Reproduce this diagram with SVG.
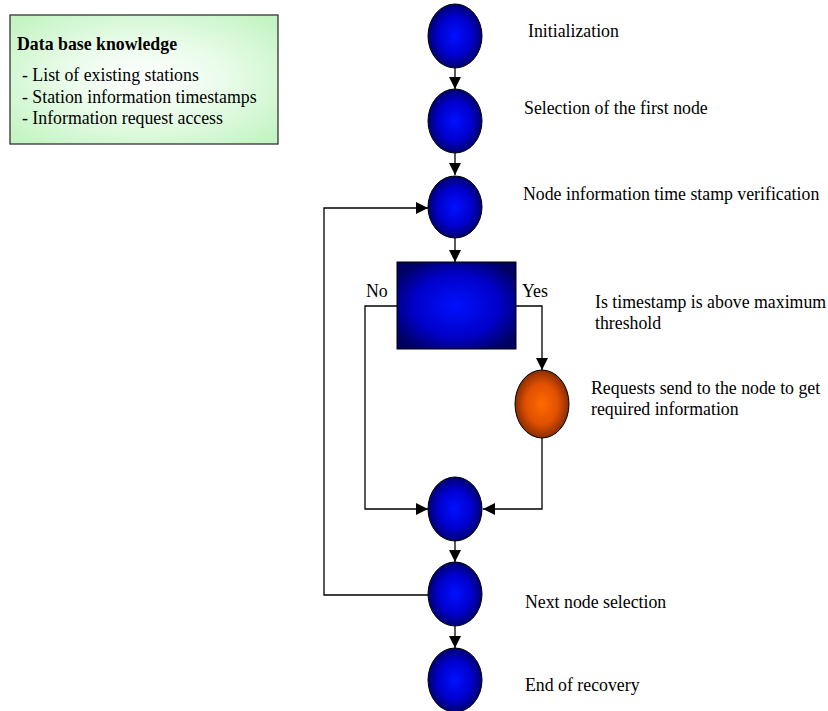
<svg xmlns="http://www.w3.org/2000/svg" width="828" height="711" viewBox="0 0 828 711">
<defs>
<radialGradient id="gBlue" cx="50%" cy="50%" r="50%">
<stop offset="0" stop-color="#0010ff"/>
<stop offset="0.6" stop-color="#0000d0"/>
<stop offset="1" stop-color="#000070"/>
</radialGradient>
<radialGradient id="gRect" cx="50%" cy="50%" r="60%">
<stop offset="0" stop-color="#0010ff"/>
<stop offset="0.6" stop-color="#0000c8"/>
<stop offset="1" stop-color="#000060"/>
</radialGradient>
<radialGradient id="gOrange" cx="50%" cy="50%" r="50%">
<stop offset="0" stop-color="#ff6a00"/>
<stop offset="0.6" stop-color="#e05000"/>
<stop offset="1" stop-color="#8a2c00"/>
</radialGradient>
<radialGradient id="gGreen" cx="50%" cy="50%" r="65%">
<stop offset="0" stop-color="#ffffff"/>
<stop offset="0.45" stop-color="#eafcea"/>
<stop offset="1" stop-color="#c4f4c4"/>
</radialGradient>
<marker id="arr" markerWidth="12" markerHeight="12" refX="12" refY="6" orient="auto" markerUnits="userSpaceOnUse">
<path d="M0,0 L12,6 L0,12 Z" fill="#000"/>
</marker>
</defs>
<style>
text{font-family:"Liberation Serif","Times New Roman","DejaVu Serif",serif;font-size:17.8px;fill:#000}
.b{font-weight:bold}
.node{stroke:#000;stroke-width:1}
.c{fill:none;stroke:#000;stroke-width:1.3}
</style>

<g id="kb">
<rect x="10" y="15" width="268" height="129" fill="url(#gGreen)" stroke="#333" stroke-width="1.3"/>
<text class="b" x="17" y="50" font-family="Liberation Serif, serif">Data base knowledge</text>
<text x="22" y="81" font-family="Liberation Serif, serif">- List of existing stations</text>
<text x="22" y="103" font-family="Liberation Serif, serif">- Station information timestamps</text>
<text x="22" y="124" font-family="Liberation Serif, serif">- Information request access</text>
</g>

<g id="connectors">
<line class="c" x1="455" y1="68" x2="455" y2="89" marker-end="url(#arr)"/>
<line class="c" x1="455" y1="153" x2="455" y2="175" marker-end="url(#arr)"/>
<line class="c" x1="455" y1="238" x2="455" y2="262" marker-end="url(#arr)"/>
<polyline class="c" points="397,306 365,306 365,509 428,509" marker-end="url(#arr)"/>
<polyline class="c" points="516,306 542,306 542,370" marker-end="url(#arr)"/>
<polyline class="c" points="542,438 542,509 483,509" marker-end="url(#arr)"/>
<line class="c" x1="455" y1="541" x2="455" y2="562" marker-end="url(#arr)"/>
<polyline class="c" points="429,595 324,595 324,208 428,208" marker-end="url(#arr)"/>
<line class="c" x1="455" y1="626" x2="455" y2="648" marker-end="url(#arr)"/>
<text x="366" y="297" font-family="Liberation Serif, serif">No</text>
<text x="522" y="297" font-family="Liberation Serif, serif">Yes</text>
</g>

<g id="n1">
<ellipse class="node" cx="455" cy="36" rx="27" ry="32" fill="url(#gBlue)"/>
<text x="528" y="37" font-family="Liberation Serif, serif">Initialization</text>
</g>
<g id="n2">
<ellipse class="node" cx="455" cy="121" rx="27" ry="32" fill="url(#gBlue)"/>
<text x="524" y="114" font-family="Liberation Serif, serif">Selection of the first node</text>
</g>
<g id="n3">
<ellipse class="node" cx="455" cy="207" rx="27" ry="31" fill="url(#gBlue)"/>
<text x="523" y="200" font-family="Liberation Serif, serif">Node information time stamp verification</text>
</g>
<g id="decision">
<rect class="node" x="397" y="262" width="119" height="87" fill="url(#gRect)"/>
<text x="595" y="308" font-family="Liberation Serif, serif">Is timestamp is above maximum</text>
<text x="595" y="329" font-family="Liberation Serif, serif">threshold</text>
</g>
<g id="request">
<ellipse class="node" cx="542" cy="404" rx="27" ry="34" fill="url(#gOrange)"/>
<text x="591" y="394" font-family="Liberation Serif, serif">Requests send to the node to get</text>
<text x="591" y="415" font-family="Liberation Serif, serif">required information</text>
</g>
<g id="n4">
<ellipse class="node" cx="455" cy="509" rx="27" ry="32" fill="url(#gBlue)"/>
</g>
<g id="n5">
<ellipse class="node" cx="455" cy="594" rx="27" ry="32" fill="url(#gBlue)"/>
<text x="525" y="608" font-family="Liberation Serif, serif">Next node selection</text>
</g>
<g id="n6">
<ellipse class="node" cx="455" cy="680" rx="27" ry="32" fill="url(#gBlue)"/>
<text x="525" y="691" font-family="Liberation Serif, serif">End of recovery</text>
</g>
</svg>
